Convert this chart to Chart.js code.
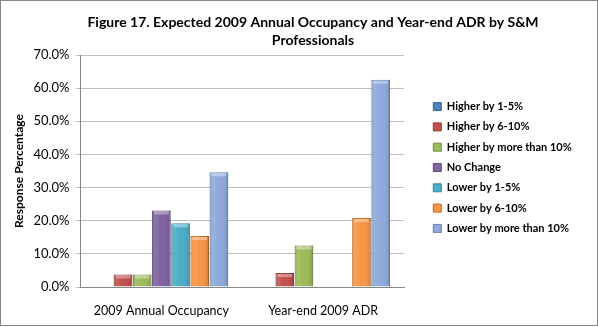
<!DOCTYPE html>
<html>
<head>
<meta charset="utf-8">
<script src="https://cdn.jsdelivr.net/npm/chart.js@4.4.0/dist/chart.umd.min.js"></script>
<style>
  html, body { margin: 0; padding: 0; background: #fff; }
  #wrap { width: 598px; height: 327px; position: relative; }
</style>
</head>
<body>
<div id="wrap"><canvas id="chart" width="598" height="327"></canvas></div>
<script>
// categories and series (percent of respondents)
const categories = ['2009 Annual Occupancy', 'Year-end 2009 ADR'];
const seriesNames = ['Higher by 1-5%', 'Higher by 6-10%', 'Higher by more than 10%',
  'No Change', 'Lower by 1-5%', 'Lower by 6-10%', 'Lower by more than 10%'];
const higher1to5 = [0.0, 0.0];
const higher6to10 = [3.8, 4.2];
const higherOver10 = [3.8, 12.5];
const noChange = [23.1, 0.0];
const lower1to5 = [19.2, 0.0];
const lower6to10 = [15.4, 20.8];
const lowerOver10 = [34.6, 62.5];
const yTicks = [0, 10, 20, 30, 40, 50, 60, 70];
const titleLines = ['Figure 17. Expected 2009 Annual Occupancy and Year-end ADR by S&M', 'Professionals'];

const seriesValues = [higher1to5, higher6to10, higherOver10, noChange, lower1to5, lower6to10, lowerOver10];
const colors = ['#4F81BD', '#C0504D', '#9BBB59', '#8064A2', '#4BACC6', '#F79646', '#8EA9DA'];
const borders = ['#3A6190', '#943B39', '#76903F', '#5F4A7C', '#33889E', '#C47125', '#6783B3'];

const FONT = 'Lato, "DejaVu Sans", sans-serif';

// title drawn over the whole canvas, plus outer frame
const frameAndTitle = {
  id: 'frameAndTitle',
  afterDraw(chart) {
    const ctx = chart.ctx;
    ctx.save();
    ctx.fillStyle = '#000';
    ctx.font = 'bold 14px ' + FONT;
    ctx.textAlign = 'center';
    ctx.textBaseline = 'middle';
    ctx.fillText(titleLines[0], 313, 22);
    ctx.fillText(titleLines[1], 313, 40);
    ctx.strokeStyle = '#868686';
    ctx.lineWidth = 1;
    ctx.strokeRect(0.5, 0.5, chart.width - 1, chart.height - 2);
    ctx.restore();
  }
};

// legend: fixed width so the plot ends where the reference does, then nudged into place
const legendPlace = {
  id: 'legendPlace',
  beforeLayout(chart) {
    const lg = chart.legend;
    if (lg && !lg._fixed) {
      const fit = lg.fit;
      lg.fit = function () { fit.call(this); this.width = 194; };
      lg._fixed = true;
    }
  },
  afterLayout(chart) {
    const lg = chart.legend;
    if (!lg) return;
    lg.left += 20;
    lg.top -= 23;
    lg.bottom -= 23;
  }
};

// light bevel on each bar, using the bar elements placed by the scales
const bevel = {
  id: 'bevel',
  afterDatasetsDraw(chart) {
    const ctx = chart.ctx;
    ctx.save();
    chart.data.datasets.forEach((ds, i) => {
      chart.getDatasetMeta(i).data.forEach(bar => {
        const h = bar.base - bar.y;
        if (h <= 0) return;
        const l = bar.x - bar.width / 2;
        const g = ctx.createLinearGradient(l, 0, l + bar.width, 0);
        g.addColorStop(0, 'rgba(0,0,0,0.10)');
        g.addColorStop(0.15, 'rgba(255,255,255,0.10)');
        g.addColorStop(0.5, 'rgba(255,255,255,0.0)');
        g.addColorStop(0.85, 'rgba(0,0,0,0.05)');
        g.addColorStop(1, 'rgba(0,0,0,0.20)');
        ctx.fillStyle = g;
        ctx.fillRect(l, bar.y, bar.width, h);
        ctx.fillStyle = 'rgba(255,255,255,0.35)';
        ctx.fillRect(l + 2, bar.y + 1, bar.width - 4, Math.min(3, h - 1));
      });
    });
    ctx.restore();
  }
};

new Chart(document.getElementById('chart'), {
  type: 'bar',
  data: {
    labels: categories,
    datasets: seriesNames.map((name, i) => ({
      label: name,
      data: seriesValues[i],
      backgroundColor: colors[i],
      borderColor: borders[i],
      borderWidth: 1,
      categoryPercentage: 0.83,
      barPercentage: 0.97
    }))
  },
  options: {
    responsive: false,
    animation: false,
    layout: { padding: { top: 55, left: 8, right: 0, bottom: 1 } },
    plugins: {
      title: { display: false },
      tooltip: { enabled: false },
      legend: {
        position: 'right',
        labels: {
          boxWidth: 8,
          boxHeight: 8,
          padding: 9.3,
          color: '#000',
          font: { family: FONT, size: 11, weight: 'bold' }
        }
      }
    },
    scales: {
      x: {
        grid: { display: false },
        border: { color: '#868686' },
        ticks: { color: '#000', font: { family: FONT, size: 12.5 }, padding: 8 }
      },
      y: {
        min: yTicks[0],
        max: yTicks[yTicks.length - 1],
        afterBuildTicks(axis) { axis.ticks = yTicks.map(v => ({ value: v })); },
        title: {
          display: true,
          text: 'Response Percentage',
          color: '#000',
          font: { family: FONT, size: 12, weight: 'bold' },
          padding: { top: 4, bottom: 1 }
        },
        grid: { color: '#BFBFBF', tickLength: 5 },
        border: { color: '#868686' },
        ticks: {
          color: '#000',
          font: { family: FONT, size: 13 },
          padding: 6,
          callback: v => v.toFixed(1) + '%'
        }
      }
    }
  },
  plugins: [legendPlace, bevel, frameAndTitle]
});
</script>
</body>
</html>
